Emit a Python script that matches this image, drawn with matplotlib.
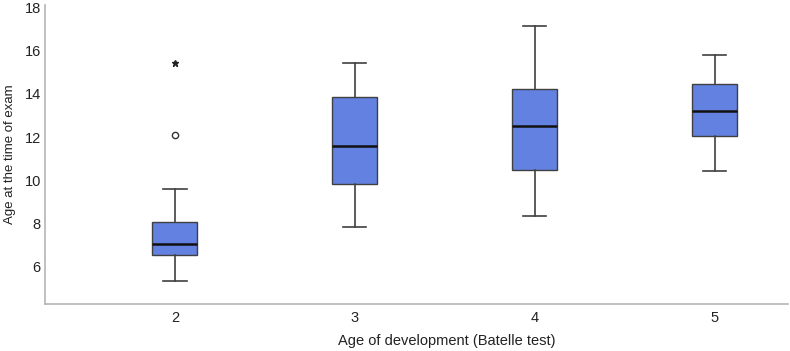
import matplotlib
matplotlib.use("Agg")
from matplotlib import pyplot as plt

plt.rcParams["font.family"] = ["Liberation Sans", "DejaVu Sans"]

# box plot summary values
groups = [2, 3, 4, 5]
whisker_low = [5.37, 7.85, 8.33, 10.44]
q1 = [6.55, 9.84, 10.47, 12.04]
medians = [7.05, 11.59, 12.53, 13.18]
q3 = [8.09, 13.84, 14.21, 14.46]
whisker_high = [9.6, 15.43, 17.14, 15.8]
outliers_circle = [12.1]     # group 2
outliers_extreme = [15.41]   # group 2

box_color = "#6281e0"
edge_color = "#404040"

stats = []
for g, lo, a, m, b, hi in zip(groups, whisker_low, q1, medians, q3, whisker_high):
    stats.append({"label": str(g), "whislo": lo, "q1": a, "med": m, "q3": b, "whishi": hi, "fliers": []})

fig = plt.figure(figsize=(7.9, 3.51), dpi=100)
ax = fig.add_axes([0.057, 0.134, 0.94, 0.852])

ax.bxp(stats, positions=groups, widths=0.25, patch_artist=True, showfliers=False,
       boxprops=dict(facecolor=box_color, edgecolor=edge_color, linewidth=1.0),
       medianprops=dict(color="#111111", linewidth=1.8),
       whiskerprops=dict(color=edge_color, linewidth=1.2),
       capprops=dict(color=edge_color, linewidth=1.2),
       capwidths=0.13)

ax.plot([groups[0]] * len(outliers_circle), outliers_circle, "o", ms=4.5,
        mfc="white", mec="#333333", mew=1.0)
ax.plot([groups[0]] * len(outliers_extreme), outliers_extreme, "*", ms=4.5,
        color="#222222")

ax.set_xlim(1.278, 5.406)
ax.set_ylim(4.29, 18.1)
ax.set_yticks([6, 8, 10, 12, 14, 16, 18])
ax.set_xticks(groups)
ax.set_xticklabels([str(g) for g in groups])

for side in ["top", "right"]:
    ax.spines[side].set_visible(False)
for side in ["left", "bottom"]:
    ax.spines[side].set_color("#b5b5b5")
    ax.spines[side].set_linewidth(1.2)

ax.tick_params(axis="both", length=0, labelsize=10.5, colors="#222222")
ax.tick_params(axis="x", pad=5)
ax.tick_params(axis="y", pad=3)

ax.set_xlabel("Age of development (Batelle test)", fontsize=10.5, color="#222222")
ax.xaxis.set_label_coords(0.541, -0.102)
ax.set_ylabel("Age at the time of exam", fontsize=9.5, color="#222222")
ax.yaxis.set_label_coords(-0.039, 0.5)

fig.savefig("out.png", dpi=100)
